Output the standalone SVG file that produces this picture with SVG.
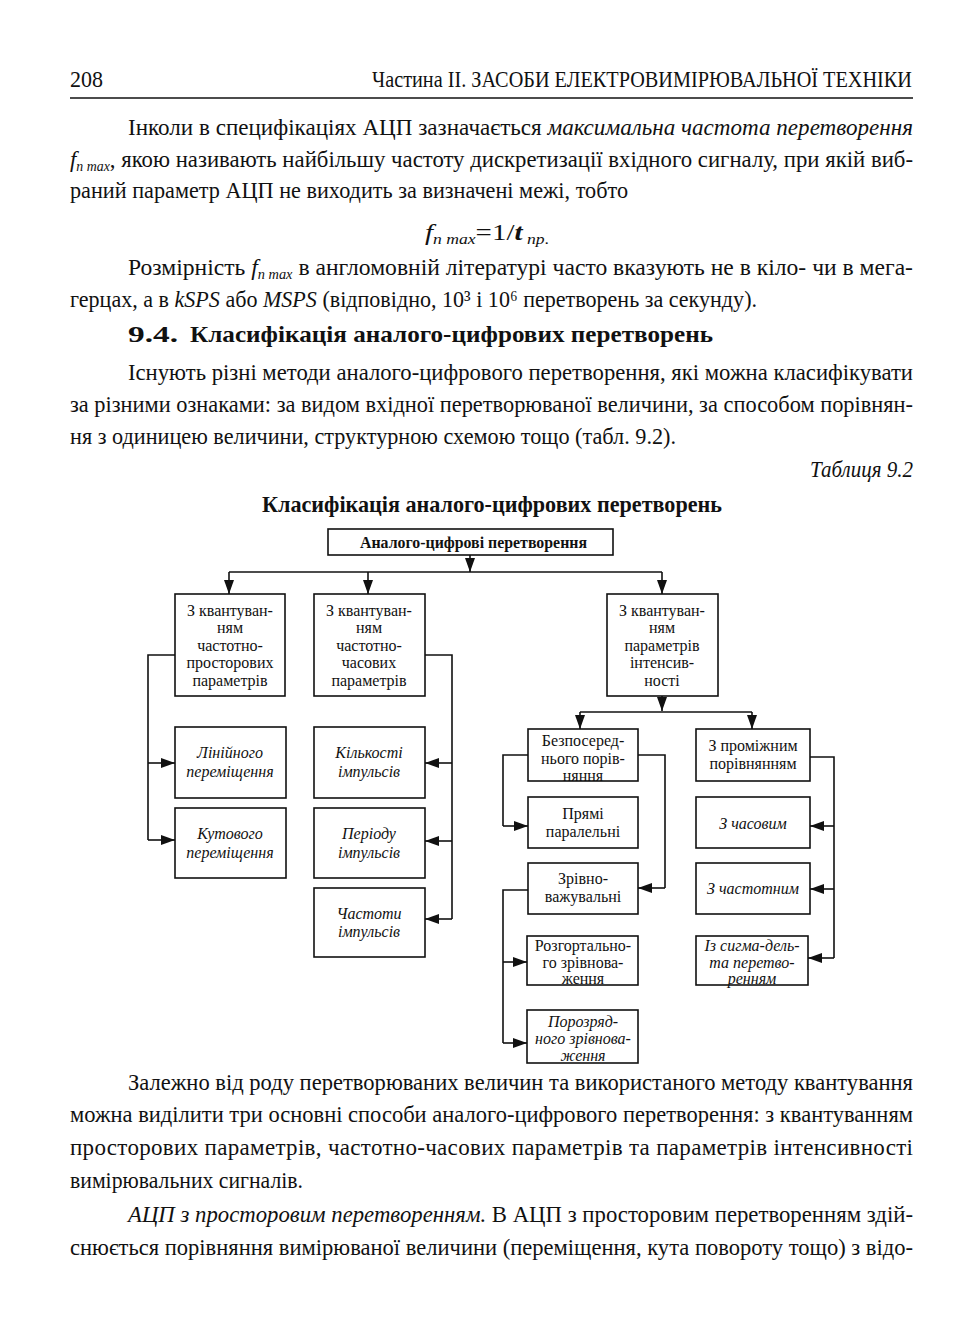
<svg xmlns="http://www.w3.org/2000/svg" width="968" height="1328" viewBox="0 0 968 1328">
<defs>
<style>
.t{font-family:"Liberation Serif","Times New Roman",serif;fill:#111;font-size:23px}
.i{font-style:italic}
.b{font-weight:bold}
.bx{fill:#fff;stroke:#111;stroke-width:1.6}
.n{font-family:"Liberation Serif","Times New Roman",serif;fill:#111;font-size:16px;text-anchor:middle}
.c{fill:none;stroke:#111;stroke-width:1.6}
</style>
<marker id="ah" viewBox="0 0 14 10" refX="14" refY="5" markerWidth="14" markerHeight="10" markerUnits="userSpaceOnUse" orient="auto">
<path d="M0,0 L14,5 L0,10 z" fill="#111"/>
</marker>
</defs>
<rect width="968" height="1328" fill="#fff"/>

<!-- page text -->
<g id="page-text">
<text class="t" x="70" y="87" font-size="21" textLength="33" lengthAdjust="spacingAndGlyphs">208</text>
<text class="t" x="372" y="87" font-size="19" textLength="540" lengthAdjust="spacingAndGlyphs">Частина ІІ. ЗАСОБИ ЕЛЕКТРОВИМІРЮВАЛЬНОЇ ТЕХНІКИ</text>
<line x1="70" y1="98" x2="913" y2="98" stroke="#111" stroke-width="1.5"/>

<text class="t" x="128" y="135" textLength="785" lengthAdjust="spacingAndGlyphs">Інколи в специфікаціях АЦП зазначається <tspan class="i">максимальна частота перетворення</tspan></text>
<text class="t" x="70" y="167" textLength="843" lengthAdjust="spacingAndGlyphs"><tspan class="i">f</tspan><tspan class="i" font-size="14" dy="4">n max</tspan><tspan dy="-4">, якою називають найбільшу частоту дискретизації вхідного сигналу, при якій виб-</tspan></text>
<text class="t" x="70" y="198" textLength="558" lengthAdjust="spacingAndGlyphs">раний параметр АЦП не виходить за визначені межі, тобто</text>
<text class="t" x="425" y="240" textLength="124" lengthAdjust="spacingAndGlyphs"><tspan class="i">f</tspan><tspan class="i" font-size="14" dy="4">n max</tspan><tspan dy="-4">=1/</tspan><tspan class="i b">t</tspan><tspan class="i" font-size="14" dy="4"> пр</tspan><tspan font-size="14">.</tspan></text>
<text class="t" x="128" y="275" textLength="785" lengthAdjust="spacingAndGlyphs">Розмірність <tspan class="i">f</tspan><tspan class="i" font-size="14" dy="4">n max</tspan><tspan dy="-4"> в англомовній літературі часто вказують не в кіло- чи в мега-</tspan></text>
<text class="t" x="70" y="307" textLength="687" lengthAdjust="spacingAndGlyphs">герцах, а в <tspan class="i">kSPS</tspan> або <tspan class="i">MSPS</tspan> (відповідно, 10³ і 10⁶ перетворень за секунду).</text>
<text class="t b" x="128" y="342" textLength="50" lengthAdjust="spacingAndGlyphs">9.4.</text>
<text class="t b" x="190" y="342" textLength="523" lengthAdjust="spacingAndGlyphs">Класифікація аналого-цифрових перетворень</text>
<text class="t" x="128" y="380" textLength="785" lengthAdjust="spacingAndGlyphs">Існують різні методи аналого-цифрового перетворення, які можна класифікувати</text>
<text class="t" x="70" y="412" textLength="843" lengthAdjust="spacingAndGlyphs">за різними ознаками: за видом вхідної перетворюваної величини, за способом порівнян-</text>
<text class="t" x="70" y="444" textLength="606" lengthAdjust="spacingAndGlyphs">ня з одиницею величини, структурною схемою тощо (табл. 9.2).</text>
<text class="t i" x="810" y="477" textLength="103" lengthAdjust="spacingAndGlyphs">Таблиця 9.2</text>
<text class="t b" x="262" y="512" textLength="460" lengthAdjust="spacingAndGlyphs">Класифікація аналого-цифрових перетворень</text>

<text class="t" x="128" y="1090" textLength="785" lengthAdjust="spacingAndGlyphs">Залежно від роду перетворюваних величин та використаного методу квантування</text>
<text class="t" x="70" y="1122" textLength="843" lengthAdjust="spacingAndGlyphs">можна виділити три основні способи аналого-цифрового перетворення: з квантуванням</text>
<text class="t" x="70" y="1155" textLength="843" lengthAdjust="spacing">просторових параметрів, частотно-часових параметрів та параметрів інтенсивності</text>
<text class="t" x="70" y="1188" textLength="233" lengthAdjust="spacingAndGlyphs">вимірювальних сигналів.</text>
<text class="t" x="128" y="1222" textLength="785" lengthAdjust="spacingAndGlyphs"><tspan class="i">АЦП з просторовим перетворенням.</tspan> В АЦП з просторовим перетворенням здій-</text>
<text class="t" x="70" y="1255" textLength="843" lengthAdjust="spacingAndGlyphs">снюється порівняння вимірюваної величини (переміщення, кута повороту тощо) з відо-</text>
</g>

<!-- connectors -->
<g id="connectors">
<path class="c" d="M470,555 V572" marker-end="url(#ah)"/>
<path class="c" d="M229,572 H662"/>
<path class="c" d="M229,572 V594" marker-end="url(#ah)"/>
<path class="c" d="M368,572 V594" marker-end="url(#ah)"/>
<path class="c" d="M662,572 V594" marker-end="url(#ah)"/>

<path class="c" d="M175,655 H148 V840"/>
<path class="c" d="M148,763 H175" marker-end="url(#ah)"/>
<path class="c" d="M148,840 H175" marker-end="url(#ah)"/>

<path class="c" d="M425,655 H452 V919"/>
<path class="c" d="M452,763 H425" marker-end="url(#ah)"/>
<path class="c" d="M452,841 H425" marker-end="url(#ah)"/>
<path class="c" d="M452,919 H425" marker-end="url(#ah)"/>

<path class="c" d="M662,696 V711" marker-end="url(#ah)"/>
<path class="c" d="M580,712 H752"/>
<path class="c" d="M580,712 V729" marker-end="url(#ah)"/>
<path class="c" d="M752,712 V729" marker-end="url(#ah)"/>

<path class="c" d="M528,755 H503 V826"/>
<path class="c" d="M503,826 H528" marker-end="url(#ah)"/>
<path class="c" d="M638,755 H665 V888"/>
<path class="c" d="M665,888 H638" marker-end="url(#ah)"/>

<path class="c" d="M528,890 H503 V1043"/>
<path class="c" d="M503,962 H527" marker-end="url(#ah)"/>
<path class="c" d="M503,1043 H527" marker-end="url(#ah)"/>

<path class="c" d="M810,757 H834 V958"/>
<path class="c" d="M834,826 H810" marker-end="url(#ah)"/>
<path class="c" d="M834,889 H810" marker-end="url(#ah)"/>
<path class="c" d="M834,958 H808" marker-end="url(#ah)"/>
</g>

<!-- nodes -->
<g id="root">
<rect class="bx" x="328" y="529" width="285" height="26"/>
<text class="n b" x="360" y="548" style="text-anchor:start" font-size="15" textLength="227" lengthAdjust="spacingAndGlyphs">Аналого-цифрові перетворення</text>
</g>

<g id="n-spatial">
<rect class="bx" x="175" y="594" width="110" height="102"/>
<text class="n"><tspan x="230" y="616">З квантуван-</tspan><tspan x="230" y="633">ням</tspan><tspan x="230" y="651">частотно-</tspan><tspan x="230" y="668">просторових</tspan><tspan x="230" y="686">параметрів</tspan></text>
</g>
<g id="n-time">
<rect class="bx" x="314" y="594" width="111" height="102"/>
<text class="n"><tspan x="369" y="616">З квантуван-</tspan><tspan x="369" y="633">ням</tspan><tspan x="369" y="651">частотно-</tspan><tspan x="369" y="668">часових</tspan><tspan x="369" y="686">параметрів</tspan></text>
</g>
<g id="n-intensity">
<rect class="bx" x="607" y="594" width="111" height="102"/>
<text class="n"><tspan x="662" y="616">З квантуван-</tspan><tspan x="662" y="633">ням</tspan><tspan x="662" y="651">параметрів</tspan><tspan x="662" y="668">інтенсив-</tspan><tspan x="662" y="686">ності</tspan></text>
</g>

<g id="n-linear">
<rect class="bx" x="175" y="727" width="111" height="71"/>
<text class="n i"><tspan x="230" y="758">Лінійного</tspan><tspan x="230" y="777">переміщення</tspan></text>
</g>
<g id="n-angular">
<rect class="bx" x="175" y="808" width="111" height="70"/>
<text class="n i"><tspan x="230" y="839">Кутового</tspan><tspan x="230" y="858">переміщення</tspan></text>
</g>

<g id="n-count">
<rect class="bx" x="314" y="727" width="111" height="71"/>
<text class="n i"><tspan x="369" y="758">Кількості</tspan><tspan x="369" y="777">імпульсів</tspan></text>
</g>
<g id="n-period">
<rect class="bx" x="314" y="808" width="111" height="70"/>
<text class="n i"><tspan x="369" y="839">Періоду</tspan><tspan x="369" y="858">імпульсів</tspan></text>
</g>
<g id="n-freq">
<rect class="bx" x="314" y="888" width="111" height="69"/>
<text class="n i"><tspan x="369" y="919">Частоти</tspan><tspan x="369" y="937">імпульсів</tspan></text>
</g>

<g id="n-direct">
<rect class="bx" x="528" y="729" width="110" height="52"/>
<text class="n"><tspan x="583" y="746">Безпосеред-</tspan><tspan x="583" y="764">нього порів-</tspan><tspan x="583" y="781">няння</tspan></text>
</g>
<g id="n-parallel">
<rect class="bx" x="528" y="797" width="110" height="51"/>
<text class="n"><tspan x="583" y="819">Прямі</tspan><tspan x="583" y="837">паралельні</tspan></text>
</g>
<g id="n-balance">
<rect class="bx" x="528" y="863" width="110" height="51"/>
<text class="n"><tspan x="583" y="884">Зрівно-</tspan><tspan x="583" y="902">важувальні</tspan></text>
</g>
<g id="n-sweep">
<rect class="bx" x="527" y="936" width="111" height="49"/>
<text class="n"><tspan x="583" y="951">Розгортально-</tspan><tspan x="583" y="968">го зрівнова-</tspan><tspan x="583" y="984">ження</tspan></text>
</g>
<g id="n-sar">
<rect class="bx" x="527" y="1010" width="111" height="53"/>
<text class="n i"><tspan x="583" y="1027">Порозряд-</tspan><tspan x="583" y="1044">ного зрівнова-</tspan><tspan x="583" y="1061">ження</tspan></text>
</g>

<g id="n-intermediate">
<rect class="bx" x="696" y="729" width="114" height="52"/>
<text class="n"><tspan x="753" y="751">З проміжним</tspan><tspan x="753" y="769">порівнянням</tspan></text>
</g>
<g id="n-timebase">
<rect class="bx" x="696" y="797" width="114" height="51"/>
<text class="n i" x="753" y="829">З часовим</text>
</g>
<g id="n-freqbase">
<rect class="bx" x="696" y="863" width="114" height="51"/>
<text class="n i" x="753" y="894">З частотним</text>
</g>
<g id="n-sigma">
<rect class="bx" x="696" y="936" width="112" height="49"/>
<text class="n i"><tspan x="752" y="951">Із сигма-дель-</tspan><tspan x="752" y="968">та перетво-</tspan><tspan x="752" y="984">ренням</tspan></text>
</g>
</svg>
